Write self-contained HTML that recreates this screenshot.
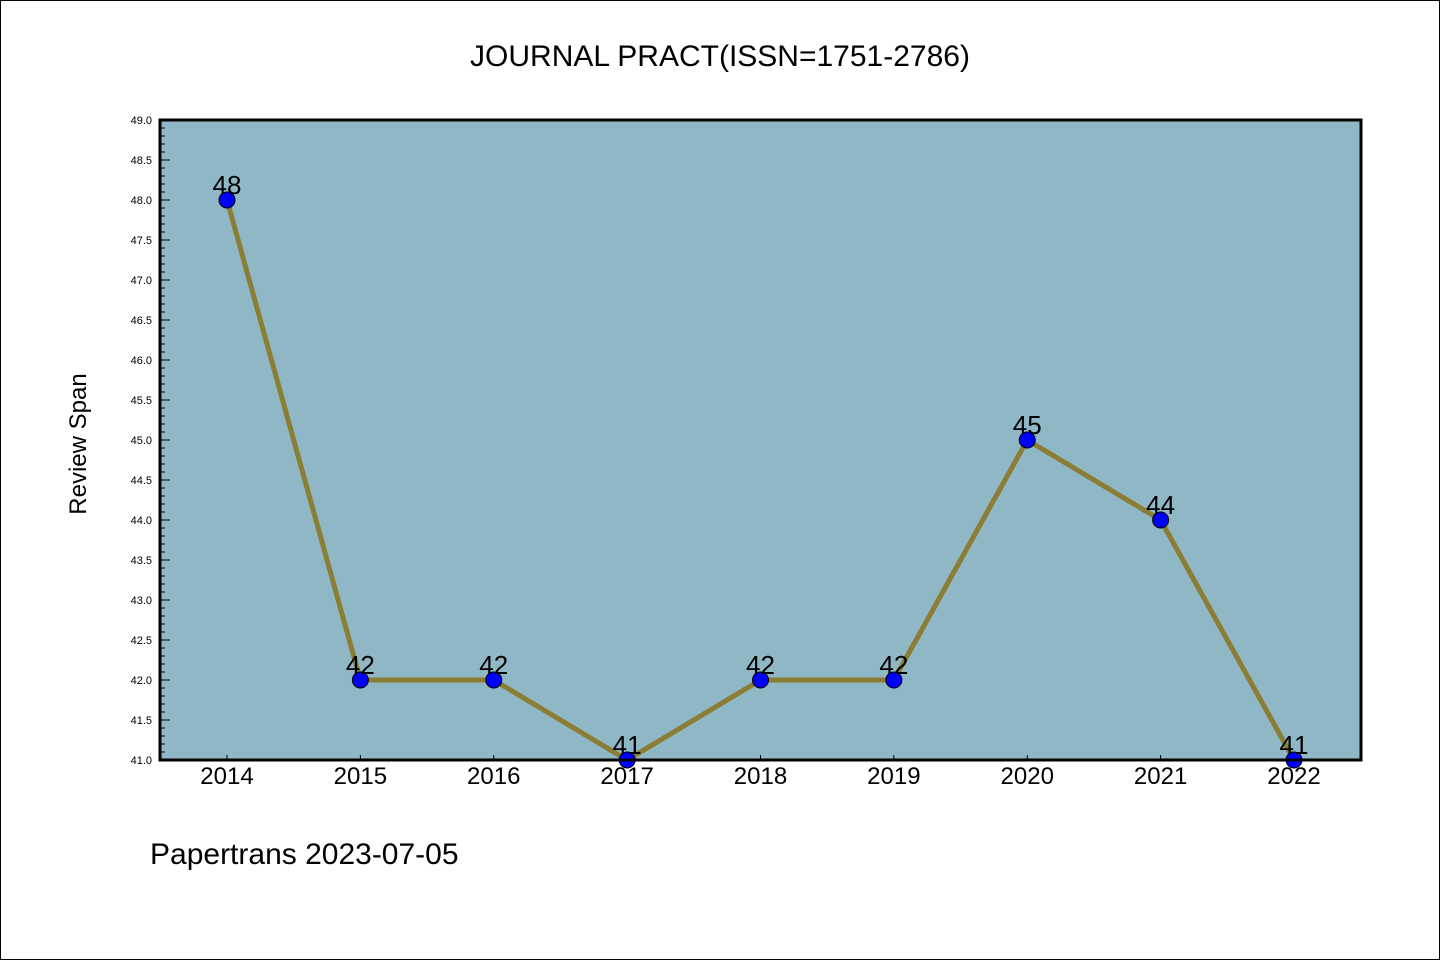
<!DOCTYPE html>
<html><head><meta charset="utf-8"><style>
html,body{margin:0;padding:0;background:#fff}
svg{display:block}
text{font-family:"WenQuanYi Zen Hei Mono","WenQuanYi Zen Hei","Liberation Sans",sans-serif}
</style></head><body>
<svg width="1440" height="960" viewBox="0 0 1440 960">
<rect x="0.5" y="0.5" width="1439" height="959" fill="#fff" stroke="#000" stroke-width="1"/>
<text x="720" y="66" text-anchor="middle" font-size="30">JOURNAL PRACT(ISSN=1751-2786)</text>
<rect x="160" y="120" width="1201" height="640" fill="#8fb7c5"/>
<g id="yaxis"></g>
<g id="xaxis"></g>
<g id="series"></g>
<rect x="160" y="120" width="1201" height="640" fill="none" stroke="#000" stroke-width="3"/>
<text x="86" y="444" transform="rotate(-90 86 444)" text-anchor="middle" font-size="24">Review Span</text>
<text x="150" y="864" font-size="30">Papertrans 2023-07-05</text>
</svg>
<script>
const categories = ["2014","2015","2016","2017","2018","2019","2020","2021","2022"];
const values = [48,42,42,41,42,42,45,44,41];
const yTicks = ["41.0","41.5","42.0","42.5","43.0","43.5","44.0","44.5","45.0","45.5","46.0","46.5","47.0","47.5","48.0","48.5","49.0"];
(function(){
const NS="http://www.w3.org/2000/svg";
const yMin=41,yMax=49,plotTop=120,plotBot=760;
function y(v){return plotBot-(v-yMin)/(yMax-yMin)*(plotBot-plotTop);}
function x(i){return 227+i*(1294-227)/(categories.length-1);}
function mk(t,a,p){const e=document.createElementNS(NS,t);for(const k in a)e.setAttribute(k,a[k]);p.appendChild(e);return e;}
const ya=document.getElementById('yaxis');
for(let v=yMin*10;v<=yMax*10;v++){
  const major=v%5===0;
  const l=mk('line',{x1:160,x2:160+(major?10:5),y1:y(v/10),y2:y(v/10),stroke:'#000','stroke-width':1},ya);
  
  
}
yTicks.forEach(t=>{
  const e=mk('text',{x:152,y:y(parseFloat(t))+4,'text-anchor':'end','font-size':11},ya);
  e.textContent=t;
  
  
});
const xa=document.getElementById('xaxis');
categories.forEach((c,i)=>{
  const l=mk('line',{x1:x(i),x2:x(i),y1:plotBot,y2:plotBot-5,stroke:'#000','stroke-width':1},xa);
  
  
  const t=mk('text',{x:x(i),y:784,'text-anchor':'middle','font-size':24},xa);
  t.textContent=c;
  
  
});
const s=document.getElementById('series');
const pl=mk('polyline',{points:values.map((v,i)=>x(i)+','+y(v)).join(' '),fill:'none',stroke:'#8b7d33','stroke-width':5,'stroke-linejoin':'round'},s);


values.forEach((v,i)=>{
  const c=mk('circle',{cx:x(i),cy:y(v),r:8,fill:'#0000ff',stroke:'#000','stroke-width':1},s);
  
  
  const t=mk('text',{x:x(i),y:y(v)-6,'text-anchor':'middle','font-size':26},s);
  t.textContent=v;
  
  
});
})();
</script>
</body></html>
